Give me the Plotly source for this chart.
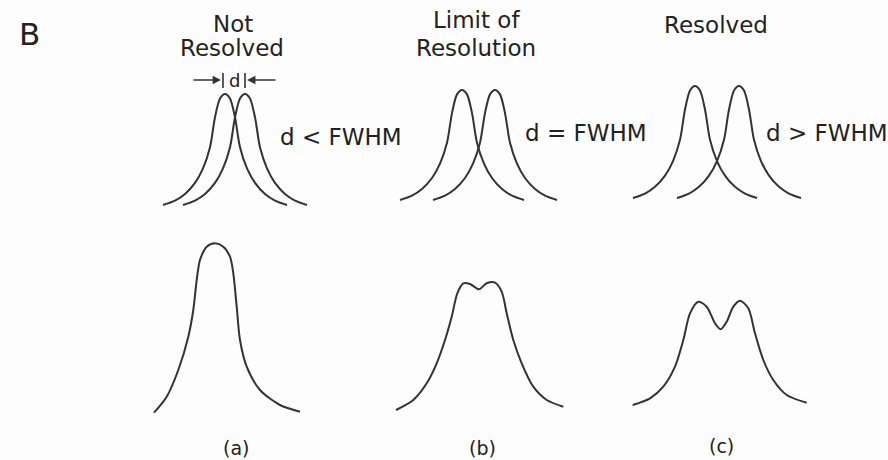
import plotly.graph_objects as go

# ---- data (pixel-space units of the 888x460 drawing) ----
# single-peak template: offset from peak centre and fraction of peak height
PEAK_U = [-62, -50, -40, -30, -22, -15, -10, -5, 0, 5, 10, 15, 22, 30, 40, 50, 62]
PEAK_H = [0, 0.04, 0.10, 0.20, 0.33, 0.52, 0.79, 0.96, 1.0, 0.96, 0.79, 0.52, 0.33, 0.20, 0.10, 0.04, 0]

# top row: two peaks per panel
TOP_CENTERS = [[225, 245], [462, 495], [695, 739]]
TOP_APEX = [94, 90, 86]
TOP_BASE = [205, 200, 198]

# bottom row: observed summed profiles
BOT_A_X = [154, 166.7, 178.3, 188.3, 193.3, 196.7, 200, 206.7, 215, 223.3, 230, 233.3, 236.7, 240, 246.7, 260, 280, 300]
BOT_A_Y = [412.7, 396.7, 370, 336.7, 310, 280, 260, 246.7, 243.3, 246.7, 256.7, 273.3, 306.7, 340, 366.7, 390, 405, 411.7]
BOT_B_X = [396, 413.3, 426.7, 436.7, 445, 451.7, 457.3, 463.3, 470, 479, 486.7, 495, 501.7, 506.7, 513.3, 521.7, 533.3, 546.7, 563.3]
BOT_B_Y = [410, 400, 383.3, 363.3, 340, 316.7, 293.3, 283.3, 284, 289.3, 283.3, 282.7, 291.7, 313.3, 340, 363.3, 386.7, 400, 406.7]
BOT_C_X = [632.7, 650, 663.3, 675, 683.3, 690, 698.3, 706.7, 715, 720.7, 726.7, 733.3, 740, 748.3, 755, 763.3, 773.3, 786.7, 806.7]
BOT_C_Y = [405, 398.3, 386.7, 366.7, 340, 313.3, 301.7, 306.7, 323.3, 329.3, 321.7, 306.7, 300.7, 308.3, 333.3, 360, 380, 395, 402.7]

# separation marker "→|d|←"
BAR_X = [223, 245]
BAR_Y = [73, 88]
ARROW_Y = 80
LEFT_ARROW = [192, 221]   # tail, head
RIGHT_ARROW = [277, 247]  # tail, head

# texts
TITLES = [("B", 29, 34, 31), ("Not", 233, 24, 23), ("Resolved", 232, 48, 23),
          ("Limit of", 476, 20, 23), ("Resolution", 476, 48, 23), ("Resolved", 716, 25, 23)]
RELATIONS = [("d < FWHM", 341, 137, "center"), ("d = FWHM", 586, 133, "center"),
             ("d > FWHM", 764, 133, "left")]
PANEL_LABELS = [("(a)", 236, 448), ("(b)", 482, 448), ("(c)", 721, 446)]

LINE = "#333333"
TXT = "#222222"
FONT = "DejaVu Sans"

fig = go.Figure()

for centers, apex, base in zip(TOP_CENTERS, TOP_APEX, TOP_BASE):
    h = base - apex
    for c in centers:
        fig.add_trace(go.Scatter(
            x=[c + u for u in PEAK_U], y=[base - f * h for f in PEAK_H],
            mode="lines", line=dict(color=LINE, width=2, shape="spline", smoothing=0.8),
            hoverinfo="skip", showlegend=False))

for xs, ys in [(BOT_A_X, BOT_A_Y), (BOT_B_X, BOT_B_Y), (BOT_C_X, BOT_C_Y)]:
    fig.add_trace(go.Scatter(
        x=xs, y=ys, mode="lines",
        line=dict(color=LINE, width=2, shape="spline", smoothing=0.8),
        hoverinfo="skip", showlegend=False))

# bars of the d marker
for bx in BAR_X:
    fig.add_trace(go.Scatter(x=[bx, bx], y=BAR_Y, mode="lines",
                             line=dict(color=LINE, width=1.6),
                             hoverinfo="skip", showlegend=False))

# arrows
for tail, head in [LEFT_ARROW, RIGHT_ARROW]:
    fig.add_annotation(x=head, y=ARROW_Y, ax=tail, ay=ARROW_Y, xref="x", yref="y",
                       axref="x", ayref="y", text="", showarrow=True,
                       arrowhead=2, arrowsize=1.2, arrowwidth=1.4, arrowcolor=LINE)

fig.add_annotation(x=234, y=80, text="d", showarrow=False, xref="x", yref="y",
                   font=dict(family=FONT, size=18, color=TXT))

for t, x, y, s in TITLES:
    fig.add_annotation(x=x, y=y, text=t, showarrow=False, xref="x", yref="y",
                       xanchor="center", yanchor="middle",
                       font=dict(family=FONT, size=s, color=TXT))

for t, x, y, anc in RELATIONS:
    fig.add_annotation(x=x, y=y, text=t, showarrow=False, xref="x", yref="y",
                       xanchor=anc, yanchor="middle",
                       font=dict(family=FONT, size=23, color=TXT))

for t, x, y in PANEL_LABELS:
    fig.add_annotation(x=x, y=y, text=t, showarrow=False, xref="x", yref="y",
                       xanchor="center", yanchor="middle",
                       font=dict(family=FONT, size=19, color=TXT))

fig.update_xaxes(range=[0, 888], visible=False, fixedrange=True)
fig.update_yaxes(range=[460, 0], visible=False, fixedrange=True)
fig.update_layout(width=888, height=460, margin=dict(l=0, r=0, t=0, b=0),
                  paper_bgcolor="#fdfdfd", plot_bgcolor="#fdfdfd")

fig.write_html("out.html", config={"displayModeBar": False},
               post_script="document.body.style.margin='0';document.body.style.overflow='hidden';")
